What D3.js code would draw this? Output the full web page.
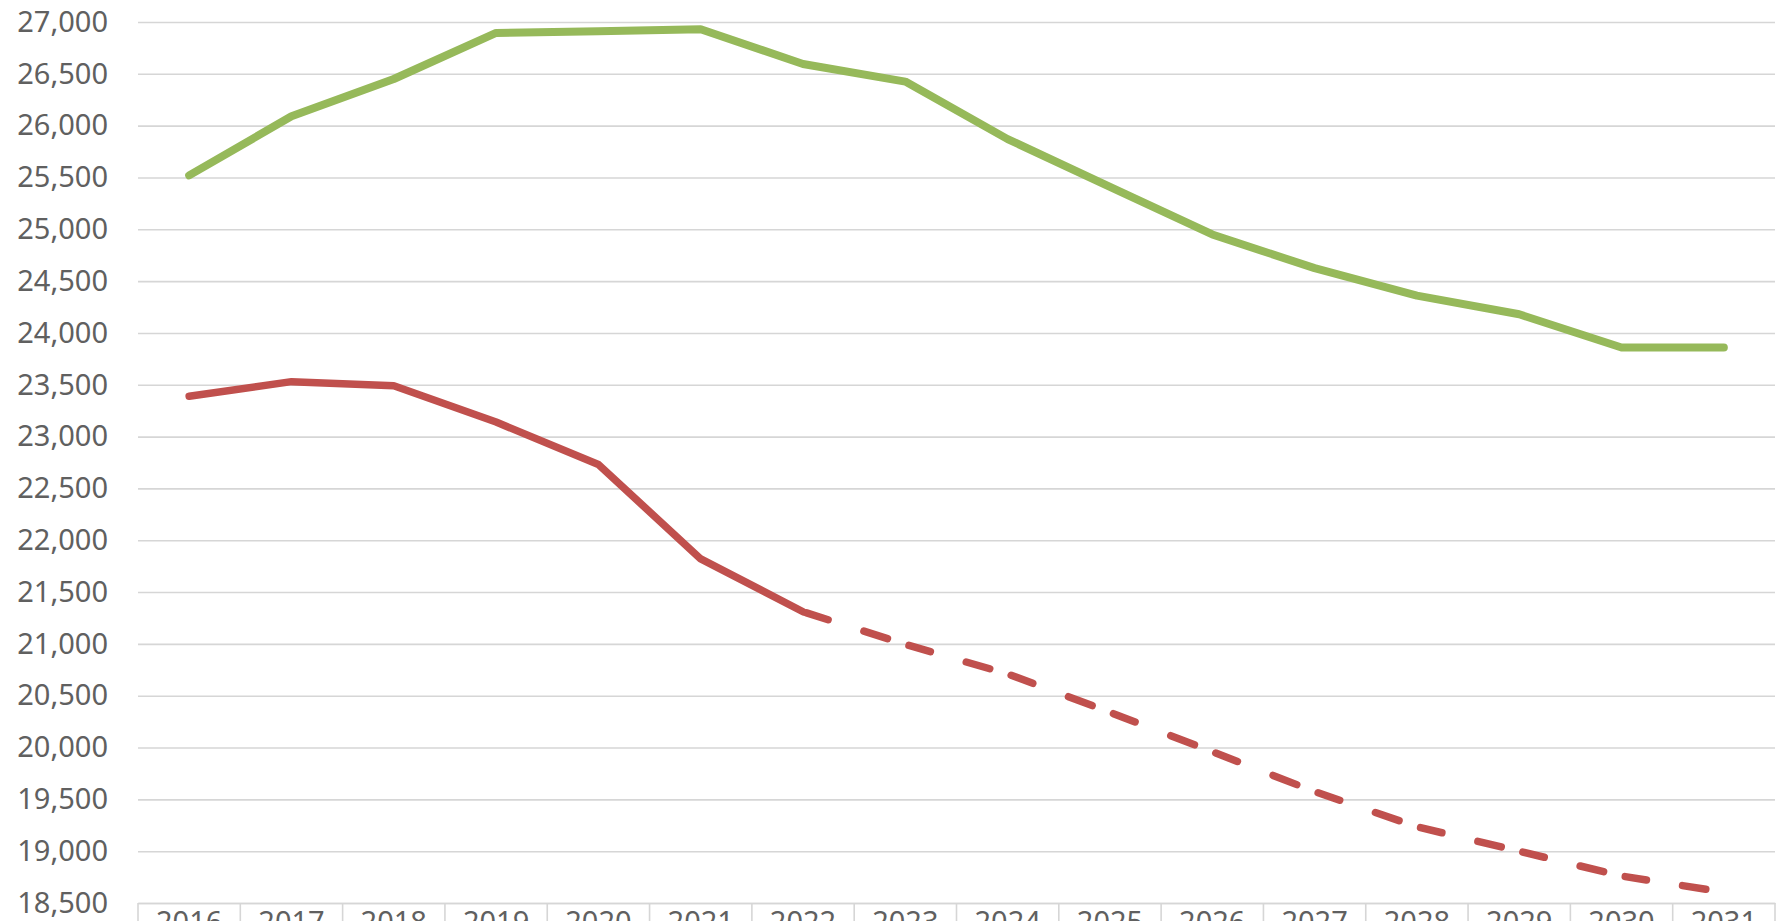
<!DOCTYPE html>
<html>
<head>
<meta charset="utf-8">
<script src="https://cdn.jsdelivr.net/npm/d3@7"></script>
<style>
  html, body { margin: 0; padding: 0; background: #ffffff; overflow: hidden; }
  svg { display: block; }
  text { font-family: "Noto Sans", "DejaVu Sans", sans-serif; }
</style>
</head>
<body>
<svg id="chart" width="1779" height="921"></svg>
<script>
// ---- data ----
const years = ["2016","2017","2018","2019","2020","2021","2022","2023","2024","2025","2026","2027","2028","2029","2030","2031"];
const greenValues = [25520, 26090, 26450, 26895, 26910, 26930, 26595, 26425, 25870, 25410, 24950, 24625, 24360, 24180, 23860, 23860];
const redValues   = [23390, 23530, 23490, 23140, 22730, 21820, 21310, 20995, 20710, 20340, 19960, 19575, 19235, 19000, 18760, 18605];
const redDashedFrom = "2022";
const yTicks = [18500, 19000, 19500, 20000, 20500, 21000, 21500, 22000, 22500, 23000, 23500, 24000, 24500, 25000, 25500, 26000, 26500, 27000];

// ---- layout ----
const W = 1779, H = 921;
const plot = { left: 138, right: 1775, top: 22, bottom: 903 };
const svg = d3.select("#chart");

const x = d3.scaleBand().domain(years).range([plot.left, plot.right]).padding(0);
const y = d3.scaleLinear().domain([18500, 27000]).range([plot.bottom, plot.top]);
const cx = d => x(d) + x.bandwidth() / 2;

const textColor = "#606060";
const gridColor = "#d6d6d6";

// gridlines + y labels
const yAxis = d3.axisLeft(y).tickValues(yTicks).tickFormat(d3.format(",")).tickSize(-(plot.right - plot.left)).tickPadding(30);
const gy = svg.append("g").attr("transform", `translate(${plot.left},0)`).call(yAxis);
gy.select(".domain").remove();
gy.selectAll(".tick line").attr("stroke", gridColor).attr("stroke-width", 1.6);
gy.selectAll(".tick text").attr("fill", textColor).attr("font-size", 29).attr("font-family", "'Noto Sans', sans-serif");

// x axis: separators + labels (cut off by the bottom edge, as in the reference)
const xAxis = d3.axisBottom(x).tickSize(0).tickPadding(8);
const gx = svg.append("g").attr("transform", `translate(0,${plot.bottom})`).call(xAxis);
gx.select(".domain").attr("stroke", gridColor).attr("stroke-width", 1.6);
gx.selectAll(".tick text").attr("fill", textColor).attr("font-size", 29).attr("font-family", "'Noto Sans', sans-serif");
const edges = years.map(d => x(d)).concat([x(years[years.length - 1]) + x.bandwidth()]);
svg.append("g").selectAll("line").data(edges).join("line")
  .attr("x1", d => d).attr("x2", d => d)
  .attr("y1", plot.bottom).attr("y2", H)
  .attr("stroke", gridColor).attr("stroke-width", 1.6);

// lines
const line = d3.line().x(d => cx(d.year)).y(d => y(d.value));
const greenPts = years.map((yr, i) => ({ year: yr, value: greenValues[i] }));
const redPts = years.map((yr, i) => ({ year: yr, value: redValues[i] }));

svg.append("path").datum(greenPts)
  .attr("d", line)
  .attr("fill", "none").attr("stroke", "#96B95A").attr("stroke-width", 8)
  .attr("stroke-linejoin", "round").attr("stroke-linecap", "round");

const split = years.indexOf(redDashedFrom);
const redColor = "#C0504D";
const w = 7.5;
svg.append("path").datum(redPts.slice(0, split + 1))
  .attr("d", line)
  .attr("fill", "none").attr("stroke", redColor).attr("stroke-width", w)
  .attr("stroke-linejoin", "round").attr("stroke-linecap", "round");

for (let i = split; i < redPts.length - 1; i++) {
  const a = redPts[i], b = redPts[i + 1];
  const dx = cx(b.year) - cx(a.year), dy = y(b.value) - y(a.value);
  const L = Math.hypot(dx, dy);
  const d1 = 0.28 * L, g1 = 0.28 * L, d2 = 0.30 * L;
  svg.append("path").datum([a, b])
    .attr("d", line)
    .attr("fill", "none").attr("stroke", redColor).attr("stroke-width", w)
    .attr("stroke-linecap", "round")
    .attr("stroke-dasharray", `${Math.max(d1 - w, 0.1)},${g1 + w},${Math.max(d2 - w, 0.1)},${L * 2}`)
    .attr("transform", `translate(${w / 2 * dx / L},${w / 2 * dy / L})`);
}
</script>
</body>
</html>
